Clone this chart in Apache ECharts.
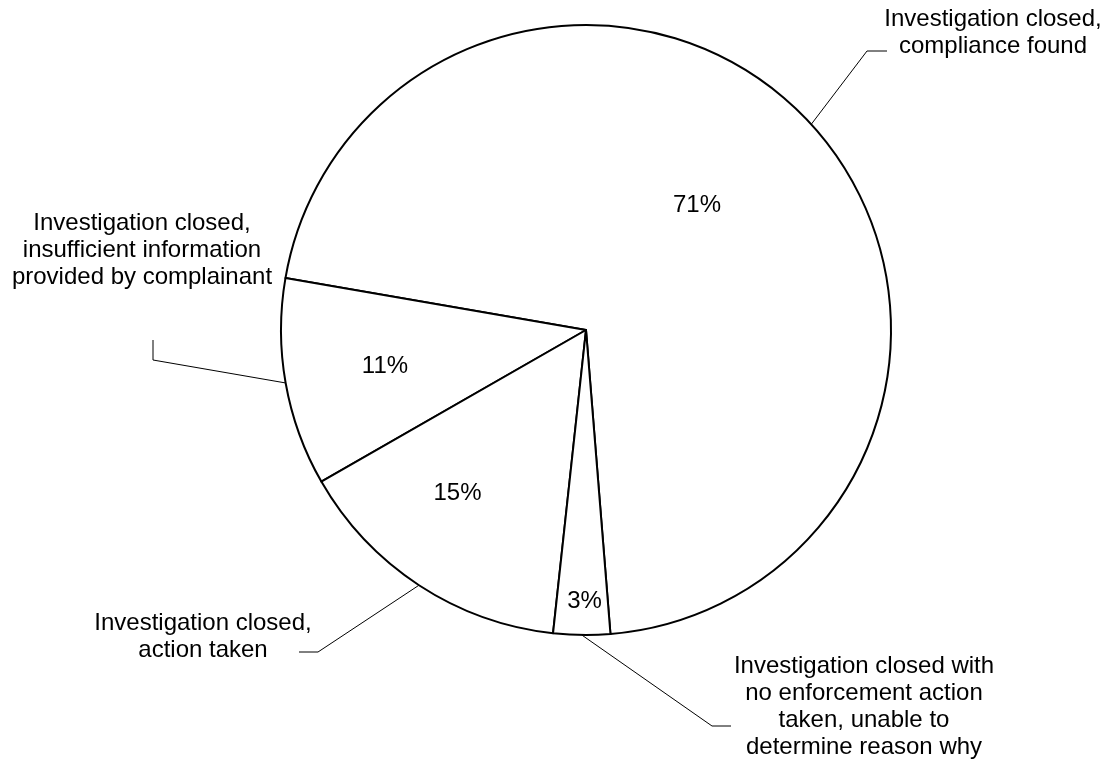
<!DOCTYPE html>
<html>
<head>
<meta charset="utf-8">
<script src="https://cdn.jsdelivr.net/npm/echarts@6/dist/echarts.min.js"></script>
<style>
html,body{margin:0;padding:0;background:#fff;}
#c{width:1112px;height:772px;}
</style>
</head>
<body>
<div id="c"></div>
<script>
// ---- data ----
const categories = [
  'Investigation closed,\ncompliance found',
  'Investigation closed,\ninsufficient information\nprovided by complainant',
  'Investigation closed,\naction taken',
  'Investigation closed with\nno enforcement action\ntaken, unable to\ndetermine reason why'
];
const shares = [71, 11, 15, 3];

// ---- label placement (layout only) ----
const pctLabelPos = [[697, 205], [385, 366], [457.5, 493], [584.5, 601.5]];
const nameLabelPos = [[993, 6], [142, 210], [203, 610], [864, 653]];
const leaderBends = [
  [[867, 51], [887, 51]],
  [[153, 360], [153, 340]],
  [[318, 652], [299, 652]],
  [[712, 726], [731, 726]]
];

const FONT = "'Liberation Sans', Arial, Helvetica, sans-serif";
const CENTER = [586, 330];
const RADIUS = 305;
const START = 274.6;

const pieData = categories.map((n, i) => ({ name: n, value: shares[i] }));

const chart = echarts.init(document.getElementById('c'), null, { renderer: 'canvas' });
chart.setOption({
  backgroundColor: '#ffffff',
  animation: false,
  series: [
    {
      type: 'pie',
      center: CENTER,
      radius: RADIUS,
      startAngle: START,
      clockwise: false,
      silent: true,
      avoidLabelOverlap: false,
      emphasis: { disabled: true },
      itemStyle: { color: '#ffffff', borderColor: '#000000', borderWidth: 2 },
      label: {
        show: true,
        position: 'inside',
        formatter: p => p.value + '%',
        color: '#000', fontFamily: FONT, fontSize: 24
      },
      labelLine: { show: false },
      labelLayout: p => ({
        x: pctLabelPos[p.dataIndex][0],
        y: pctLabelPos[p.dataIndex][1],
        align: 'center',
        verticalAlign: 'middle'
      }),
      data: pieData
    },
    {
      type: 'pie',
      center: CENTER,
      radius: RADIUS,
      startAngle: START,
      clockwise: false,
      silent: true,
      avoidLabelOverlap: false,
      emphasis: { disabled: true },
      itemStyle: { color: 'rgba(0,0,0,0)', borderWidth: 0 },
      label: {
        show: true,
        position: 'outside',
        formatter: p => p.name,
        color: '#000', fontFamily: FONT, fontSize: 24, lineHeight: 27,
        align: 'center'
      },
      labelLine: { show: true, length: 20, length2: 20, lineStyle: { color: '#000', width: 1 } },
      labelLayout: p => {
        const i = p.dataIndex;
        const anchor = (p.labelLinePoints && p.labelLinePoints[0]) || CENTER;
        return {
          x: nameLabelPos[i][0],
          y: nameLabelPos[i][1],
          align: 'center',
          verticalAlign: 'top',
          labelLinePoints: [anchor, leaderBends[i][0], leaderBends[i][1]]
        };
      },
      data: pieData
    }
  ]
});
</script>
</body>
</html>
